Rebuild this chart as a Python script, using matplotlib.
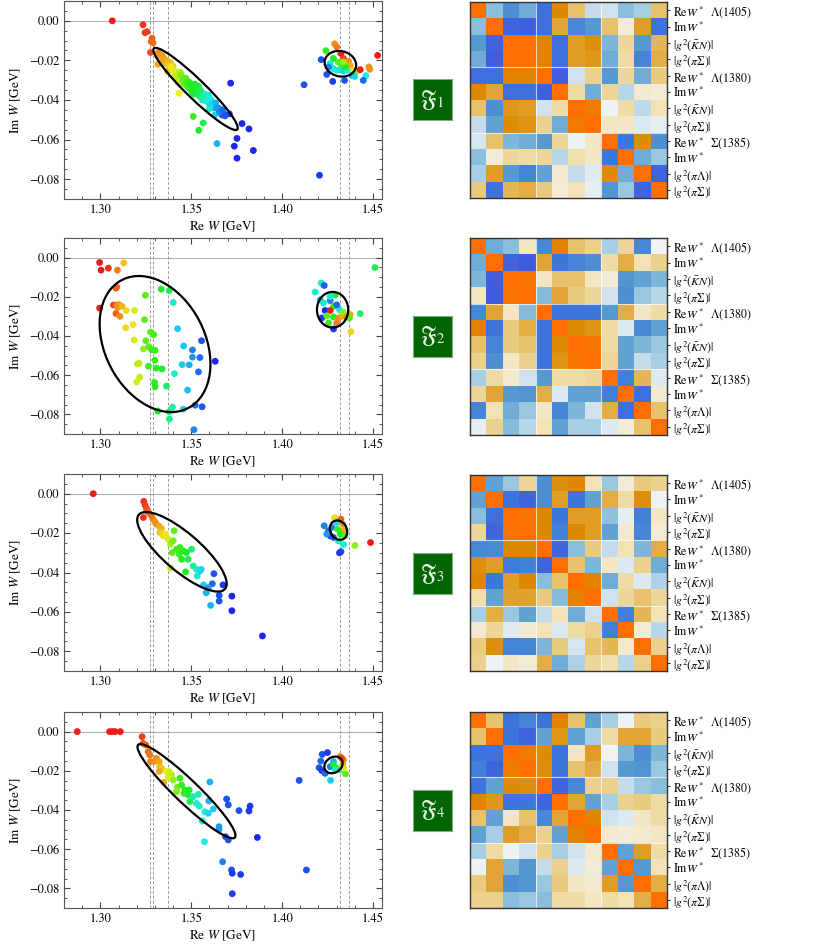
import numpy as np
import matplotlib
matplotlib.use('Agg')
import matplotlib.pyplot as plt
from matplotlib.patches import Ellipse
from matplotlib.colors import LinearSegmentedColormap, ListedColormap, hsv_to_rgb
from matplotlib.ticker import MultipleLocator, FuncFormatter

plt.rcParams['font.family'] = ['STIXGeneral', 'DejaVu Serif']
plt.rcParams['mathtext.fontset'] = 'stix'

# ---------------- data ----------------
# thresholds (vertical dashed lines)
thr_re = [1.3275, 1.329, 1.337, 1.432, 1.437]

# panel 1: Re W, Im W, colour parameter (hue)
re_1 = [1.3066, 1.3235, 1.3246, 1.3257, 1.3285, 1.3280, 1.3290, 1.3276, 1.3320, 1.3325,
        1.3316, 1.3350, 1.3365, 1.3335, 1.3385, 1.3400, 1.3370, 1.3395, 1.3420, 1.3410,
        1.3440, 1.3425, 1.3433, 1.3450, 1.3460, 1.3470, 1.3480, 1.3490, 1.3500, 1.3505,
        1.3520, 1.3515, 1.3530, 1.3540, 1.3545, 1.3555, 1.3560, 1.3575, 1.3590, 1.3600,
        1.3610, 1.3620, 1.3600, 1.3630, 1.3650, 1.3660, 1.3670, 1.3690, 1.3710, 1.3717,
        1.3511, 1.3566, 1.3542, 1.3642, 1.3737, 1.3752, 1.3752, 1.3780, 1.3818, 1.3842,
        1.3340, 1.3355, 1.3375, 1.3390, 1.3405, 1.3432, 1.3445, 1.3458, 1.3475, 1.3488,
        1.3498, 1.3510, 1.3525, 1.3535, 1.3550, 1.3565, 1.3580, 1.3595, 1.3605, 1.3615,
        1.3635, 1.3640, 1.3655, 1.3675, 1.3685,
        1.4241, 1.4215, 1.4246, 1.4279, 1.4344, 1.4289, 1.4301, 1.4324, 1.4338, 1.4366,
        1.4375, 1.4393, 1.4283, 1.4310, 1.4329, 1.4265, 1.4283, 1.4301, 1.4320, 1.4338,
        1.4356, 1.4384, 1.4256, 1.4347, 1.4338, 1.4412, 1.4430, 1.4478, 1.4483, 1.4461,
        1.4447, 1.4526, 1.4121, 1.4206, 1.4399]
im_1 = [0.0000, -0.0020, -0.0060, -0.0055, -0.0088, -0.0105, -0.0112, -0.0160, -0.0160, -0.0175,
        -0.0220, -0.0190, -0.0200, -0.0210, -0.0210, -0.0230, -0.0255, -0.0250, -0.0260, -0.0280,
        -0.0260, -0.0310, -0.0366, -0.0300, -0.0320, -0.0290, -0.0330, -0.0310, -0.0340, -0.0360,
        -0.0320, -0.0370, -0.0350, -0.0330, -0.0380, -0.0360, -0.0400, -0.0370, -0.0390, -0.0420,
        -0.0400, -0.0440, -0.0445, -0.0475, -0.0440, -0.0460, -0.0475, -0.0475, -0.0470, -0.0315,
        -0.0483, -0.0516, -0.0553, -0.0620, -0.0633, -0.0594, -0.0694, -0.0519, -0.0546, -0.0655,
        -0.0175, -0.0215, -0.0225, -0.0235, -0.0250, -0.0285, -0.0275, -0.0295, -0.0315, -0.0340,
        -0.0320, -0.0350, -0.0330, -0.0365, -0.0350, -0.0385, -0.0405, -0.0375, -0.0395, -0.0420,
        -0.0415, -0.0440, -0.0460, -0.0450, -0.0480,
        -0.0151, -0.0196, -0.0271, -0.0306, -0.0301, -0.0116, -0.0131, -0.0165, -0.0190, -0.0204,
        -0.0225, -0.0250, -0.0190, -0.0208, -0.0225, -0.0216, -0.0242, -0.0250, -0.0247, -0.0254,
        -0.0250, -0.0276, -0.0233, -0.0233, -0.0208, -0.0254, -0.0247, -0.0233, -0.0245, -0.0277,
        -0.0301, -0.0175, -0.0323, -0.0780, -0.0281]
hue_1 = [0.00, 0.02, 0.03, 0.03, 0.06, 0.06, 0.07, 0.04, 0.10, 0.10,
         0.12, 0.12, 0.13, 0.11, 0.14, 0.15, 0.12, 0.16, 0.20, 0.22,
         0.24, 0.20, 0.18, 0.26, 0.28, 0.30, 0.32, 0.34, 0.33, 0.35,
         0.36, 0.38, 0.40, 0.38, 0.42, 0.45, 0.48, 0.50, 0.52, 0.55,
         0.56, 0.58, 0.50, 0.55, 0.62, 0.64, 0.66, 0.64, 0.68, 0.70,
         0.33, 0.40, 0.36, 0.58, 0.70, 0.70, 0.70, 0.70, 0.70, 0.70,
         0.11, 0.13, 0.15, 0.18, 0.19, 0.22, 0.27, 0.30, 0.33, 0.33,
         0.35, 0.36, 0.37, 0.40, 0.42, 0.46, 0.50, 0.50, 0.52, 0.55,
         0.58, 0.60, 0.62, 0.64, 0.66,
         0.33, 0.66, 0.66, 0.68, 0.66, 0.10, 0.08, 0.00, 0.03, 0.10,
         0.12, 0.20, 0.35, 0.30, 0.32, 0.50, 0.50, 0.52, 0.48, 0.55,
         0.50, 0.58, 0.62, 0.35, 0.25, 0.25, 0.00, 0.10, 0.10, 0.52,
         0.64, 0.00, 0.66, 0.68, 0.55]

# panel 2
re_2 = [1.2996, 1.3004, 1.3044, 1.3094, 1.3129, 1.3086, 1.3090, 1.2996, 1.3072, 1.3090,
        1.3103, 1.3096, 1.3120, 1.3086, 1.3108, 1.3143, 1.3140, 1.3180, 1.3188, 1.3186,
        1.3204, 1.3213, 1.3200, 1.3217, 1.3237, 1.3243, 1.3248, 1.3250, 1.3265, 1.3267,
        1.3276, 1.3294, 1.3283, 1.3301, 1.3300, 1.3309, 1.3298, 1.3301, 1.3316, 1.3340,
        1.3335, 1.3379, 1.3401, 1.3364, 1.3379, 1.3380, 1.3397, 1.3408, 1.3425, 1.3450,
        1.3458, 1.3456, 1.3480, 1.3489, 1.3507, 1.3507, 1.3515, 1.3522, 1.3540, 1.3548,
        1.3557, 1.3560, 1.3632,
        1.4215, 1.4182, 1.4232, 1.4210, 1.4228, 1.4265, 1.4292, 1.4283, 1.4219, 1.4237,
        1.4265, 1.4283, 1.4246, 1.4256, 1.4283, 1.4301, 1.4310, 1.4329, 1.4316, 1.4338,
        1.4356, 1.4375, 1.4379, 1.4371, 1.4430, 1.4511, 1.4301, 1.4265]
im_2 = [-0.0025, -0.0064, -0.0054, -0.0064, -0.0027, -0.0156, -0.0150, -0.0258, -0.0242, -0.0242,
        -0.0240, -0.0254, -0.0249, -0.0285, -0.0300, -0.0270, -0.0358, -0.0342, -0.0270, -0.0420,
        -0.0542, -0.0540, -0.0634, -0.0610, -0.0466, -0.0317, -0.0192, -0.0424, -0.0554, -0.0454,
        -0.0380, -0.0393, -0.0471, -0.0473, -0.0524, -0.0564, -0.0637, -0.0659, -0.0783, -0.0568,
        -0.0161, -0.0168, -0.0229, -0.0656, -0.0786, -0.0824, -0.0763, -0.0592, -0.0363, -0.0546,
        -0.0451, -0.0773, -0.0676, -0.0547, -0.0471, -0.0508, -0.0878, -0.0753, -0.0583, -0.0510,
        -0.0424, -0.0761, -0.0529,
        -0.0130, -0.0176, -0.0142, -0.0215, -0.0232, -0.0220, -0.0190, -0.0249, -0.0308, -0.0270,
        -0.0270, -0.0303, -0.0297, -0.0334, -0.0364, -0.0334, -0.0308, -0.0300, -0.0266, -0.0280,
        -0.0303, -0.0291, -0.0378, -0.0308, -0.0286, -0.0051, -0.0241, -0.0198]
hue_2 = [0.00, 0.00, 0.02, 0.08, 0.14, 0.05, 0.06, 0.00, 0.04, 0.08,
         0.11, 0.10, 0.13, 0.06, 0.10, 0.16, 0.16, 0.17, 0.20, 0.20,
         0.22, 0.22, 0.20, 0.22, 0.25, 0.30, 0.30, 0.30, 0.32, 0.30,
         0.30, 0.32, 0.33, 0.33, 0.33, 0.34, 0.34, 0.35, 0.36, 0.37,
         0.36, 0.40, 0.50, 0.42, 0.42, 0.45, 0.48, 0.50, 0.56, 0.56,
         0.56, 0.55, 0.57, 0.58, 0.62, 0.60, 0.62, 0.64, 0.64, 0.64,
         0.66, 0.66, 0.70,
         0.50, 0.50, 0.65, 0.58, 0.50, 0.62, 0.35, 0.33, 0.68, 0.70,
         0.00, 0.35, 0.30, 0.33, 0.68, 0.08, 0.10, 0.12, 0.50, 0.25,
         0.10, 0.12, 0.16, 0.30, 0.42, 0.40, 0.64, 0.50]

# panel 3
re_3 = [1.2961, 1.3239, 1.3246, 1.3254, 1.3256, 1.3237, 1.3268, 1.3281, 1.3290, 1.3300,
        1.3309, 1.3324, 1.3336, 1.3327, 1.3346, 1.3360, 1.3373, 1.3386, 1.3406, 1.3401,
        1.3395, 1.3386, 1.3419, 1.3438, 1.3434, 1.3447, 1.3456, 1.3474, 1.3483, 1.3469,
        1.3502, 1.3511, 1.3529, 1.3533, 1.3548, 1.3555, 1.3568, 1.3583, 1.3607, 1.3625,
        1.3616, 1.3594, 1.3654, 1.3654, 1.3675, 1.3724, 1.3724, 1.3892,
        1.4232, 1.4256, 1.4265, 1.4283, 1.4246, 1.4274, 1.4301, 1.4289, 1.4324, 1.4335,
        1.4338, 1.4305, 1.4320, 1.4347, 1.4310, 1.4338, 1.4324, 1.4316, 1.4401, 1.4487]
im_3 = [0.0000, -0.0039, -0.0058, -0.0075, -0.0087, -0.0121, -0.0098, -0.0112, -0.0129, -0.0143,
        -0.0155, -0.0166, -0.0177, -0.0197, -0.0214, -0.0205, -0.0231, -0.0256, -0.0188, -0.0239,
        -0.0299, -0.0377, -0.0282, -0.0273, -0.0307, -0.0333, -0.0290, -0.0299, -0.0333, -0.0397,
        -0.0282, -0.0367, -0.0384, -0.0418, -0.0392, -0.0384, -0.0463, -0.0503, -0.0567, -0.0406,
        -0.0457, -0.0477, -0.0516, -0.0545, -0.0463, -0.0520, -0.0594, -0.0722,
        -0.0163, -0.0188, -0.0214, -0.0222, -0.0205, -0.0171, -0.0146, -0.0122, -0.0129, -0.0155,
        -0.0188, -0.0180, -0.0205, -0.0214, -0.0240, -0.0258, -0.0294, -0.0300, -0.0263, -0.0248]
hue_3 = [0.00, 0.02, 0.03, 0.04, 0.05, 0.02, 0.06, 0.07, 0.08, 0.10,
         0.10, 0.12, 0.13, 0.15, 0.16, 0.17, 0.20, 0.24, 0.30, 0.28,
         0.30, 0.23, 0.32, 0.33, 0.33, 0.35, 0.34, 0.37, 0.40, 0.35,
         0.42, 0.45, 0.50, 0.50, 0.55, 0.55, 0.56, 0.58, 0.58, 0.66,
         0.64, 0.60, 0.66, 0.66, 0.68, 0.70, 0.70, 0.70,
         0.62, 0.64, 0.68, 0.66, 0.60, 0.62, 0.55, 0.16, 0.06, 0.10,
         0.12, 0.33, 0.35, 0.30, 0.50, 0.50, 0.66, 0.68, 0.25, 0.00]

# panel 4
re_4 = [1.2873, 1.3051, 1.3066, 1.3081, 1.3110, 1.3230, 1.3235, 1.3250, 1.3263, 1.3272,
        1.3276, 1.3296, 1.3309, 1.3324, 1.3327, 1.3338, 1.3324, 1.3349, 1.3364, 1.3379,
        1.3392, 1.3373, 1.3401, 1.3423, 1.3419, 1.3438, 1.3447, 1.3465, 1.3460, 1.3483,
        1.3493, 1.3489, 1.3511, 1.3529, 1.3544, 1.3539, 1.3561, 1.3573, 1.3603, 1.3597,
        1.3575, 1.3594, 1.3621, 1.3653, 1.3653, 1.3673, 1.3695, 1.3704, 1.3689, 1.3704,
        1.3722, 1.3726, 1.3726, 1.3763, 1.3772, 1.3818, 1.3824, 1.3864,
        1.4221, 1.4250, 1.4213, 1.4204, 1.4219, 1.4237, 1.4265, 1.4283, 1.4267, 1.4094,
        1.4134, 1.4320, 1.4338, 1.4335, 1.4329, 1.4283, 1.4301, 1.4349, 1.4292, 1.4320,
        1.4338]
im_4 = [0.0000, 0.0000, 0.0000, 0.0000, 0.0000, -0.0026, -0.0060, -0.0068, -0.0102, -0.0119,
        -0.0153, -0.0153, -0.0136, -0.0153, -0.0179, -0.0187, -0.0204, -0.0259, -0.0204, -0.0204,
        -0.0221, -0.0233, -0.0247, -0.0284, -0.0306, -0.0238, -0.0272, -0.0298, -0.0315, -0.0323,
        -0.0357, -0.0298, -0.0332, -0.0366, -0.0380, -0.0320, -0.0456, -0.0562, -0.0257, -0.0354,
        -0.0409, -0.0417, -0.0395, -0.0485, -0.0499, -0.0664, -0.0344, -0.0374, -0.0536, -0.0553,
        -0.0706, -0.0723, -0.0827, -0.0403, -0.0729, -0.0405, -0.0380, -0.0540,
        -0.0116, -0.0107, -0.0150, -0.0184, -0.0199, -0.0213, -0.0179, -0.0153, -0.0249, -0.0249,
        -0.0706, -0.0128, -0.0145, -0.0170, -0.0136, -0.0170, -0.0187, -0.0216, -0.0196, -0.0196,
        -0.0187]
hue_4 = [0.00, 0.00, 0.00, 0.00, 0.00, 0.03, 0.05, 0.06, 0.07, 0.08,
         0.09, 0.10, 0.10, 0.12, 0.13, 0.15, 0.12, 0.12, 0.18, 0.20,
         0.22, 0.20, 0.26, 0.28, 0.27, 0.33, 0.33, 0.35, 0.33, 0.38,
         0.40, 0.36, 0.48, 0.50, 0.50, 0.48, 0.50, 0.52, 0.58, 0.58,
         0.52, 0.55, 0.56, 0.60, 0.60, 0.62, 0.66, 0.66, 0.66, 0.66,
         0.66, 0.68, 0.68, 0.66, 0.68, 0.68, 0.68, 0.72,
         0.66, 0.68, 0.64, 0.66, 0.68, 0.64, 0.62, 0.58, 0.56, 0.66,
         0.66, 0.08, 0.10, 0.12, 0.04, 0.38, 0.33, 0.30, 0.50, 0.48,
         0.20]

# covariance ellipses: (centre Re, centre Im, width, height, angle)
ell_1 = [(1.3524, -0.0344, 0.0615, 0.0100, -41.6), (1.4321, -0.0217, 0.0175, 0.0128, -10)]
ell_2 = [(1.3301, -0.0441, 0.0750, 0.0540, -57), (1.4278, -0.0266, 0.0172, 0.0182, 0)]
ell_3 = [(1.3449, -0.0295, 0.0606, 0.0196, -38), (1.4311, -0.0185, 0.0105, 0.0088, -50)]
ell_4 = [(1.3474, -0.0304, 0.0712, 0.0124, -41.5), (1.4283, -0.0170, 0.0105, 0.0080, 25)]

# correlation matrices
corr_1 = [
    [1, -0.4, -0.65, -0.5, -0.85, 0.8, 0.45, -0.2, -0.15, -0.4, -0.3, 0.45],
    [-0.4, 1, -0.92, -0.95, -0.85, 0.6, -0.7, -0.6, 0.45, 0.1, 0.65, -0.82],
    [-0.6, -0.92, 1, 1, 0.85, -0.85, 0.65, 0.75, -0.45, 0.3, -0.6, 0.5],
    [-0.5, -0.95, 1, 1, 0.85, -0.85, 0.65, 0.7, -0.5, 0.25, -0.72, 0.55],
    [-0.85, -0.85, 0.85, 0.85, 1, -0.95, -0.15, 0.35, -0.6, 0.3, -0.5, 0.4],
    [0.8, 0.6, -0.85, -0.85, -0.95, 1, 0.25, -0.5, 0.3, -0.25, 0.12, 0.1],
    [0.45, -0.65, 0.7, 0.65, -0.15, 0.25, 1, 0.9, -0.02, 0.25, -0.22, 0.2],
    [-0.2, -0.55, 0.78, 0.72, 0.35, -0.5, 0.9, 1, 0.15, 0.15, -0.1, -0.05],
    [-0.12, 0.45, -0.45, -0.5, -0.6, 0.3, -0.02, 0.15, 1, -0.8, 0.78, -0.65],
    [-0.4, 0.1, 0.3, 0.25, 0.3, -0.25, 0.22, 0.15, -0.8, 1, -0.5, -0.35],
    [-0.3, 0.65, -0.6, -0.72, -0.55, 0.12, -0.2, -0.08, 0.78, -0.5, 1, -0.92],
    [0.4, -0.82, 0.5, 0.55, 0.4, 0.1, 0.2, -0.05, -0.62, -0.35, -0.92, 1]]
corr_2 = [
    [1, -0.5, -0.4, 0.15, -0.7, 0.85, 0.45, 0.35, -0.3, 0.3, -0.7, 0.0],
    [-0.5, 1, -0.92, -0.97, 0.6, -0.8, -0.72, -0.65, 0.25, 0.55, 0.2, 0.35],
    [-0.45, -0.95, 1, 0.95, 0.15, 0.45, 0.45, 0.15, 0.1, -0.62, -0.55, -0.45],
    [0.15, -0.97, 0.95, 1, -0.42, 0.6, 0.4, 0.3, -0.15, -0.65, -0.35, -0.25],
    [-0.7, 0.6, 0.15, -0.42, 1, -0.82, -0.82, -0.8, -0.6, 0.55, 0.15, 0.25],
    [0.85, -0.82, 0.4, 0.55, -0.82, 1, 0.78, 0.72, 0.25, -0.1, -0.7, -0.55],
    [0.45, -0.72, 0.4, 0.45, -0.82, 0.78, 1, 0.95, 0.25, -0.55, -0.45, -0.35],
    [0.35, -0.65, 0.15, 0.35, -0.82, 0.72, 0.95, 1, 0.3, -0.55, -0.2, -0.3],
    [-0.3, 0.25, 0.12, -0.15, -0.6, 0.25, 0.25, 0.3, 1, -0.75, 0.5, -0.1],
    [0.3, 0.6, -0.6, -0.62, 0.55, -0.1, -0.55, -0.55, -0.75, 1, -0.85, 0.12],
    [-0.72, 0.2, -0.5, -0.35, 0.15, -0.72, -0.45, -0.15, 0.55, -0.85, 1, 0.45],
    [-0.05, 0.35, -0.42, -0.25, 0.2, -0.55, -0.3, -0.3, -0.1, 0.1, 0.45, 1]]
corr_3 = [
    [1, -0.55, -0.35, 0.3, -0.65, 0.75, 0.82, 0.2, -0.35, 0.1, 0.4, 0.35],
    [-0.55, 1, -0.82, -0.92, -0.65, 0.65, -0.8, -0.55, 0.55, 0.25, 0.75, -0.02],
    [-0.4, -0.85, 1, 0.95, 0.8, -0.8, 0.65, 0.65, -0.38, -0.05, -0.75, 0.15],
    [0.3, -0.92, 0.95, 1, 0.8, -0.75, 0.8, 0.65, -0.55, 0.12, -0.72, 0.1],
    [-0.7, -0.68, 0.8, 0.8, 1, -0.92, -0.4, 0.4, -0.2, 0.2, -0.45, 0.55],
    [0.75, 0.65, -0.78, -0.75, -0.92, 1, 0.45, -0.45, 0.15, -0.1, 0.35, -0.5],
    [0.82, -0.8, 0.65, 0.82, -0.4, 0.45, 1, 0.85, -0.5, 0.25, -0.1, -0.28],
    [0.22, -0.55, 0.62, 0.62, 0.4, -0.42, 0.85, 1, -0.15, 0.3, 0.45, 0.3],
    [-0.3, 0.55, -0.35, -0.55, -0.2, 0.18, -0.5, -0.15, 1, -0.75, 0.5, 0.2],
    [0.12, 0.3, -0.08, 0.12, 0.2, -0.1, 0.25, 0.35, -0.75, 1, 0.1, -0.25],
    [0.4, 0.75, -0.72, -0.72, -0.45, 0.4, -0.12, 0.45, 0.5, 0.12, 1, 0.35],
    [0.35, -0.02, 0.15, 0.1, 0.55, -0.5, -0.28, 0.3, 0.22, -0.25, 0.35, 1]]
corr_4 = [
    [1, 0.45, -0.82, -0.72, -0.82, 0.85, 0.45, -0.55, -0.3, -0.02, 0.4, 0.35],
    [0.45, 1, -0.82, -0.92, -0.55, 0.7, -0.55, -0.3, 0.25, 0.6, 0.6, 0.4],
    [-0.82, -0.82, 1, 0.9, 0.78, -0.82, 0.15, 0.65, 0.0, -0.45, -0.65, -0.45],
    [-0.75, -0.92, 0.9, 1, 0.75, -0.8, 0.45, 0.55, -0.15, -0.6, -0.62, -0.35],
    [-0.82, -0.55, 0.78, 0.75, 1, -0.92, -0.7, 0.35, 0.35, -0.2, -0.35, -0.4],
    [0.85, 0.7, -0.82, -0.8, -0.92, 1, 0.6, -0.55, -0.3, 0.35, 0.4, 0.25],
    [0.45, -0.55, 0.15, 0.45, -0.7, 0.6, 1, 0.85, -0.15, -0.1, 0.15, 0.25],
    [-0.55, -0.3, 0.65, 0.55, 0.35, -0.55, 0.85, 1, 0.12, 0.1, 0.12, 0.15],
    [-0.3, 0.25, -0.02, -0.15, 0.35, -0.3, -0.15, 0.12, 1, -0.55, 0.65, 0.25],
    [-0.02, 0.6, -0.45, -0.62, -0.2, 0.35, -0.1, 0.1, -0.55, 1, -0.6, 0.2],
    [0.4, 0.6, -0.65, -0.62, -0.35, 0.4, 0.15, 0.12, 0.65, -0.6, 1, 0.55],
    [0.35, 0.35, -0.4, -0.35, -0.4, 0.25, 0.25, 0.15, 0.25, 0.2, 0.55, 1]]

row_labels = ['Re$W^*$  Λ(1405)', 'Im$W^*$', r'$|g^2(\bar{K}N)|$', r'$|g^2(\pi\Sigma)|$',
              'Re$W^*$  Λ(1380)', 'Im$W^*$', r'$|g^2(\bar{K}N)|$', r'$|g^2(\pi\Sigma)|$',
              'Re$W^*$  Σ(1385)', 'Im$W^*$', r'$|g^2(\pi\Lambda)|$', r'$|g^2(\pi\Sigma)|$']
fit_names = [r'$\mathfrak{F}_1$', r'$\mathfrak{F}_2$', r'$\mathfrak{F}_3$', r'$\mathfrak{F}_4$']

# ---------------- colours ----------------
hh = np.linspace(0, 0.66, 256)
hue_cmap = ListedColormap(hsv_to_rgb(np.column_stack([hh, np.full(256, 0.88), np.full(256, 0.93)])))
corr_cmap = LinearSegmentedColormap.from_list('corr', [
    (0.00, '#4058E0'), (0.10, '#3C78DC'), (0.20, '#5599D0'), (0.30, '#8CC0DC'),
    (0.40, '#C5DDEB'), (0.50, '#F2F5F5'), (0.60, '#F2E2B5'), (0.70, '#EACB80'),
    (0.80, '#E2A535'), (0.90, '#DC8A00'), (1.00, '#FF6E00')])

# ---------------- layout ----------------
W, H = 822, 948
fig = plt.figure(figsize=(W / 100, H / 100), dpi=100)

def box(x0, y0, x1, y1):
    return [x0 / W, 1 - y1 / H, (x1 - x0) / W, (y1 - y0) / H]

sc_rows = [(1, 199), (238, 434), (474, 671), (712, 908)]
hm_rows = [(2, 198), (238, 435), (475, 671), (712, 908)]
gb_rows = [(79, 120), (316, 357), (553, 594), (790, 831)]

panels = [(re_1, im_1, hue_1, ell_1, corr_1), (re_2, im_2, hue_2, ell_2, corr_2),
          (re_3, im_3, hue_3, ell_3, corr_3), (re_4, im_4, hue_4, ell_4, corr_4)]

minus_fmt = FuncFormatter(lambda v, p: ('%.2f' % v).replace('-', '\u2212'))

for k, (re, im, hue, ells, corr) in enumerate(panels):
    # scatter of pole positions
    ax = fig.add_axes(box(64, sc_rows[k][0], 382, sc_rows[k][1]))
    ax.axhline(0, color='#b0b0b0', lw=0.8, zorder=1)
    for t in thr_re:
        ax.axvline(t, color='#9a9a9a', lw=0.7, ls=(0, (3, 2)), zorder=1)
    ax.scatter(re, im, c=hue, cmap=hue_cmap, vmin=0, vmax=0.70, s=24, lw=0, zorder=2)
    for cx, cy, w, h, a in ells:
        ax.add_patch(Ellipse((cx, cy), w, h, angle=a, fill=False, ec='black', lw=1.6, zorder=3))
    ax.set_xlim(1.28, 1.455)
    ax.set_ylim(-0.09, 0.01)
    ax.xaxis.set_major_locator(MultipleLocator(0.05))
    ax.xaxis.set_minor_locator(MultipleLocator(0.01))
    ax.yaxis.set_major_locator(MultipleLocator(0.02))
    ax.yaxis.set_minor_locator(MultipleLocator(0.005))
    ax.xaxis.set_major_formatter(FuncFormatter(lambda v, p: '%.2f' % v))
    ax.yaxis.set_major_formatter(minus_fmt)
    ax.tick_params(which='both', direction='in', top=True, right=True, color='#444444',
                   labelsize=9)
    ax.tick_params(which='major', length=4)
    ax.tick_params(which='minor', length=2)
    for s in ax.spines.values():
        s.set_color('#555555')
        s.set_linewidth(0.8)
    ax.set_xlabel('Re $W$ [GeV]', fontsize=9.5, labelpad=3)
    ax.set_ylabel('Im $W$ [GeV]', fontsize=9.5, labelpad=4)

    # fit label
    gb = fig.add_axes(box(413, gb_rows[k][0], 452, gb_rows[k][1]))
    gb.set_facecolor('#006400')
    gb.set_xticks([])
    gb.set_yticks([])
    for s in gb.spines.values():
        s.set_color('#7fb07f')
        s.set_linewidth(0.8)
    gb.text(0.5, 0.5, fit_names[k], color='#e8f5e8', fontsize=15,
            ha='center', va='center', transform=gb.transAxes)

    # correlation matrix
    hm = fig.add_axes(box(470, hm_rows[k][0], 667, hm_rows[k][1]))
    hm.imshow(np.array(corr), cmap=corr_cmap, vmin=-1, vmax=1, aspect='auto',
              interpolation='nearest')
    for b in (3.5, 7.5):
        hm.axvline(b, color='white', lw=0.8, alpha=0.7)
        hm.axhline(b, color='white', lw=0.8, alpha=0.7)
    hm.set_xticks([])
    hm.yaxis.tick_right()
    hm.set_yticks(range(12))
    hm.set_yticklabels(row_labels)
    hm.tick_params(axis='y', direction='out', length=2.5, color='#333333',
                   labelsize=8.6, pad=2)
    for s in hm.spines.values():
        s.set_color('#333333')
        s.set_linewidth(1.0)

fig.savefig('out.png', dpi=100)
